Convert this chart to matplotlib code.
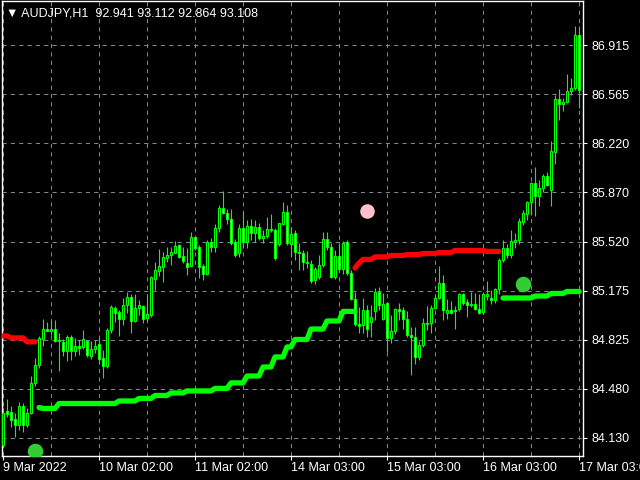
import matplotlib
matplotlib.use("Agg")
import matplotlib.pyplot as plt
import numpy as np

plt.rcParams['font.family'] = ['Liberation Sans', 'DejaVu Sans']

title = "\u25bc AUDJPY,H1  92.941 93.112 92.864 93.108"

# hourly bars, 9 Mar 2022 .. 17 Mar 2022 03:00
opens = [84.081, 84.321, 84.314, 84.264, 84.223, 84.356, 84.223, 84.307, 84.520, 84.648,
         84.831, 84.902, 84.888, 84.902, 84.817, 84.810, 84.747, 84.845, 84.747, 84.781,
         84.774, 84.817, 84.711, 84.760, 84.796, 84.697, 84.640, 84.895, 85.051, 85.023,
         84.973, 85.073, 85.129, 84.959, 85.051, 85.065, 84.980, 85.002, 85.257, 85.314,
         85.342, 85.406, 85.427, 85.441, 85.498, 85.420, 85.370, 85.349, 85.555, 85.483,
         85.349, 85.293, 85.519, 85.483, 85.618, 85.760, 85.725, 85.682, 85.519, 85.441,
         85.618, 85.519, 85.632, 85.583, 85.625, 85.547, 85.561, 85.611, 85.604, 85.505,
         85.647, 85.732, 85.505, 85.583, 85.448, 85.441, 85.377, 85.363, 85.250, 85.271,
         85.356, 85.540, 85.483, 85.271, 85.420, 85.328, 85.519, 85.300, 85.115, 84.938,
         84.930, 85.037, 84.952, 85.030, 85.165, 84.973, 85.087, 84.838, 84.888, 85.044,
         85.037, 84.973, 84.860, 84.845, 84.704, 84.789, 84.945, 84.945, 85.051, 85.122,
         85.229, 85.016, 85.037, 85.037, 85.044, 85.151, 85.094, 85.073, 85.080, 85.044,
         85.023, 85.137, 85.122, 85.108, 85.186, 85.391, 85.476, 85.427, 85.519, 85.533,
         85.661, 85.718, 85.803, 85.937, 85.845, 85.902, 85.987, 85.887, 86.157, 86.532,
         86.497, 86.511, 86.589, 86.610, 86.986]
highs = [84.342, 84.406, 84.356, 84.307, 84.385, 84.378, 84.342, 84.569, 84.697, 84.852,
         84.973, 84.952, 84.966, 84.966, 84.874, 84.831, 84.860, 84.860, 84.838, 84.824,
         84.895, 84.824, 84.817, 84.824, 84.838, 84.754, 84.909, 85.073, 85.065, 85.037,
         85.122, 85.165, 85.151, 85.151, 85.108, 85.073, 85.144, 85.278, 85.377, 85.469,
         85.448, 85.483, 85.483, 85.526, 85.505, 85.483, 85.476, 85.590, 85.555, 85.498,
         85.363, 85.533, 85.547, 85.647, 85.781, 85.880, 85.753, 85.753, 85.540, 85.647,
         85.732, 85.675, 85.682, 85.675, 85.654, 85.604, 85.696, 85.718, 85.618, 85.654,
         85.803, 85.781, 85.625, 85.604, 85.512, 85.462, 85.455, 85.391, 85.342, 85.427,
         85.590, 85.590, 85.512, 85.462, 85.512, 85.526, 85.533, 85.321, 85.165, 85.058,
         85.122, 85.073, 85.073, 85.193, 85.200, 85.158, 85.094, 85.002, 85.051, 85.087,
         85.058, 85.030, 84.917, 84.917, 84.817, 84.980, 85.065, 85.073, 85.144, 85.349,
         85.286, 85.115, 85.101, 85.065, 85.158, 85.158, 85.115, 85.165, 85.158, 85.151,
         85.165, 85.243, 85.179, 85.193, 85.406, 85.533, 85.505, 85.604, 85.583, 85.689,
         85.746, 85.810, 85.944, 86.050, 85.958, 86.001, 86.015, 86.235, 86.561, 86.603,
         86.539, 86.710, 86.681, 87.050, 87.050]
lows = [84.066, 84.278, 84.208, 84.137, 84.187, 84.173, 84.208, 84.300, 84.498, 84.626,
        84.781, 84.888, 84.860, 84.810, 84.605, 84.711, 84.676, 84.683, 84.711, 84.719,
        84.760, 84.704, 84.690, 84.733, 84.662, 84.555, 84.626, 84.874, 84.952, 84.852,
        84.930, 85.016, 84.874, 84.952, 85.002, 84.945, 84.959, 84.988, 85.179, 85.278,
        85.236, 85.377, 85.356, 85.441, 85.406, 85.370, 85.286, 85.349, 85.462, 85.264,
        85.250, 85.286, 85.448, 85.448, 85.590, 85.718, 85.647, 85.498, 85.413, 85.413,
        85.476, 85.476, 85.533, 85.519, 85.533, 85.512, 85.547, 85.590, 85.391, 85.490,
        85.640, 85.498, 85.413, 85.391, 85.321, 85.321, 85.335, 85.229, 85.222, 85.257,
        85.342, 85.462, 85.264, 85.257, 85.321, 85.293, 85.286, 85.108, 84.923, 84.874,
        84.874, 84.845, 84.845, 84.966, 85.037, 84.966, 84.740, 84.803, 84.867, 84.966,
        84.902, 84.845, 84.577, 84.655, 84.683, 84.774, 84.895, 84.874, 85.044, 85.115,
        84.966, 84.973, 85.009, 84.902, 85.030, 85.073, 84.988, 85.058, 85.037, 85.009,
        85.009, 85.108, 85.080, 85.087, 85.151, 85.377, 85.406, 85.406, 85.476, 85.505,
        85.640, 85.675, 85.711, 85.704, 85.774, 85.873, 85.916, 85.774, 86.072, 86.384,
        86.447, 86.504, 86.561, 86.596, 86.469]
closes = [84.307, 84.300, 84.258, 84.223, 84.356, 84.223, 84.307, 84.520, 84.648, 84.838,
          84.902, 84.888, 84.902, 84.817, 84.824, 84.747, 84.845, 84.747, 84.781, 84.767,
          84.831, 84.719, 84.760, 84.781, 84.690, 84.640, 84.895, 85.058, 85.016, 84.973,
          85.073, 85.129, 84.959, 85.051, 85.073, 84.973, 85.009, 85.271, 85.321, 85.349,
          85.413, 85.427, 85.448, 85.490, 85.413, 85.384, 85.342, 85.555, 85.476, 85.342,
          85.293, 85.519, 85.483, 85.618, 85.760, 85.725, 85.682, 85.512, 85.427, 85.618,
          85.519, 85.632, 85.583, 85.625, 85.547, 85.561, 85.611, 85.604, 85.406, 85.654,
          85.732, 85.512, 85.576, 85.448, 85.441, 85.377, 85.370, 85.243, 85.328, 85.356,
          85.540, 85.483, 85.271, 85.420, 85.328, 85.512, 85.300, 85.115, 84.938, 84.923,
          85.037, 84.902, 84.988, 85.165, 85.073, 85.080, 84.838, 84.888, 85.044, 85.030,
          84.973, 84.860, 84.845, 84.704, 84.789, 84.945, 84.938, 85.051, 85.122, 85.229,
          85.037, 85.037, 85.016, 85.030, 85.151, 85.087, 85.073, 85.080, 85.044, 85.016,
          85.151, 85.151, 85.108, 85.186, 85.391, 85.476, 85.427, 85.526, 85.533, 85.668,
          85.725, 85.803, 85.937, 85.845, 85.902, 85.987, 85.923, 86.164, 86.532, 86.497,
          86.511, 86.589, 86.610, 86.986, 86.596]

# trailing stop segments (first bar index, values)
red1_start = 0
red1 = [84.853, 84.853, 84.839, 84.839, 84.839, 84.839, 84.811, 84.811, 84.811]
green1_start = 9
green1 = [84.346, 84.339, 84.339, 84.339, 84.339,
          84.374, 84.374, 84.374, 84.374, 84.374, 84.374, 84.374, 84.374,
          84.374, 84.374, 84.374, 84.374, 84.374, 84.374, 84.374,
          84.392, 84.392, 84.392, 84.392, 84.392,
          84.410, 84.410, 84.410, 84.410,
          84.431, 84.431, 84.431, 84.431,
          84.449, 84.449, 84.449, 84.449,
          84.463, 84.463, 84.463, 84.463, 84.463, 84.463, 84.463,
          84.481, 84.481, 84.481, 84.481,
          84.520, 84.520, 84.520, 84.520,
          84.569, 84.569, 84.569, 84.569,
          84.633, 84.633, 84.633,
          84.704, 84.704, 84.704,
          84.775, 84.775,
          84.828, 84.828, 84.828, 84.828,
          84.902, 84.902, 84.902, 84.902,
          84.959, 84.959, 84.959, 84.959,
          85.027, 85.027, 85.027, 85.027]
red2_start = 88
red2 = [85.335, 85.370, 85.395, 85.395, 85.395,
        85.413, 85.413, 85.413, 85.413,
        85.423, 85.423, 85.423, 85.423,
        85.430, 85.430, 85.430, 85.430,
        85.437, 85.437, 85.437, 85.437,
        85.444, 85.444, 85.444, 85.444,
        85.459, 85.459, 85.459, 85.459, 85.459, 85.459, 85.459, 85.459,
        85.452, 85.452, 85.452, 85.452]
green2_start = 125
green2 = [85.122, 85.122, 85.122, 85.122, 85.122, 85.122, 85.122, 85.122,
          85.136, 85.136, 85.136, 85.136,
          85.154, 85.154, 85.154, 85.154,
          85.168, 85.168, 85.168, 85.168]

# signal dots
buy_bars = [8, 130]
buy_prices = [84.038, 85.221]
sell_bars = [91]
sell_prices = [85.739]

price_ticks = [84.130, 84.480, 84.825, 85.175, 85.520, 85.870, 86.220, 86.565, 86.915]
time_tick_bars = [0, 24, 48, 72, 96, 120, 144]
time_tick_labels = ["9 Mar 2022", "10 Mar 02:00", "11 Mar 02:00", "14 Mar 03:00",
                    "15 Mar 03:00", "16 Mar 03:00", "17 Mar 03:00"]

fig = plt.figure(figsize=(6.4, 4.8), dpi=100, facecolor='black')
ax = fig.add_axes([2/640, 24/480, 581/640, 455/480], facecolor='black')

o = np.array(opens); h = np.array(highs); l = np.array(lows); c = np.array(closes)
x = np.arange(len(o))
lime = '#00ff00'

# grid
for gx in range(0, 145, 12):
    ax.axvline(gx, color='#778899', lw=0.75, ls=(0, (4, 4)), zorder=1)
for gy in price_ticks:
    ax.axhline(gy, color='#778899', lw=0.75, ls=(0, (4, 4)), zorder=1)

# candles
ax.vlines(x, l, h, color=lime, lw=0.8, zorder=2)
body_col = np.where(c >= o, 'black', 'white')
ax.bar(x, c - o, bottom=o, width=0.5, color=body_col, edgecolor=lime, linewidth=0.8, zorder=3)

# stop lines
for start, vals, col in [(red1_start, red1, '#ff0000'), (green1_start, green1, lime),
                         (red2_start, red2, '#ff0000'), (green2_start, green2, lime)]:
    ax.plot(np.arange(start, start + len(vals)), vals, color=col, lw=3.8,
            solid_capstyle='round', zorder=4)

ax.scatter(buy_bars, buy_prices, s=125, color='#32cd32', zorder=5, linewidths=0)
ax.scatter(sell_bars, sell_prices, s=110, color='#ffc0cb', zorder=5, linewidths=0)

ax.set_xlim(-0.25, 145)
ax.set_ylim(84.002, 87.227)

ax.yaxis.tick_right()
ax.set_yticks(price_ticks)
ax.set_yticklabels([f"{p:.3f}" for p in price_ticks])
ax.set_xticks(time_tick_bars)
ax.set_xticklabels(time_tick_labels)
for lbl in ax.get_xticklabels():
    lbl.set_ha('left')
ax.tick_params(colors='white', labelcolor='white', labelsize=9, length=3, width=0.8)
ax.tick_params(axis='y', pad=3)
ax.tick_params(axis='x', pad=1)
for sp in ax.spines.values():
    sp.set_color('white')
    sp.set_linewidth(1)

fig.text(6/640, 1 - 13/480, title, color='white', fontsize=9, va='center', ha='left')

fig.savefig("out.png", dpi=100, facecolor='black')
